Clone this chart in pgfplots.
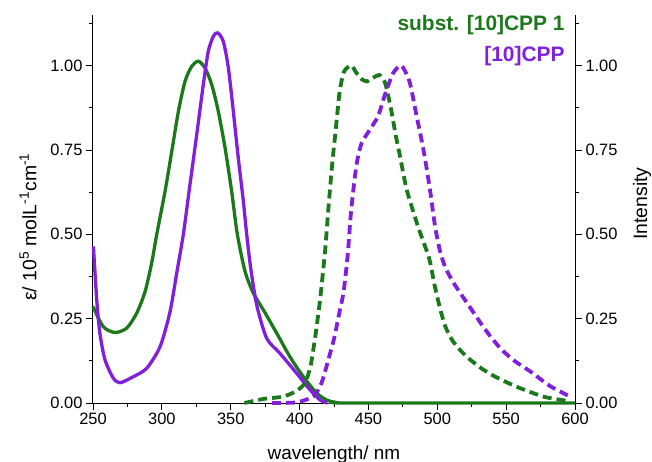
\documentclass[border=0pt]{standalone}
\usepackage{fontspec}
\setmainfont{Liberation Sans}
\usepackage{pgfplots}
\pgfplotsset{compat=1.18}
\definecolor{cgreen}{RGB}{27,120,27}
\definecolor{cpurple}{RGB}{128,32,220}

\begin{document}
\begin{tikzpicture}[x=1bp,y=1bp]
\pgfplotsset{
 every axis/.append style={
  scale only axis, width=482bp, height=388bp,
  xmin=250, xmax=600, ymin=0, ymax=1.15,
  tick align=outside, major tick length=7bp, minor tick length=4bp,
  tick style={black, line width=0.8bp},
  axis line style={line width=1bp},
  ytick={0,0.25,0.5,0.75,1},
  minor ytick={0.125,0.375,0.625,0.875,1.125},
  yticklabel style={/pgf/number format/.cd,fixed,fixed zerofill,precision=2},
  ticklabel style={font=\fontsize{16.5}{18}\selectfont},
  /pgf/number format/assume math mode=true,
  clip=false,
 },
}
% absorption (left axis)
\begin{axis}[
 axis x line*=bottom, axis y line*=left,
 xtick={250,300,...,600}, minor x tick num=1,
]
\addplot[cgreen, line width=3.3bp, smooth, tension=0.45] coordinates {
 (250,0.286) (257.5,0.226) (266,0.209) (274.5,0.222) (281.7,0.266) (287.8,0.33)
 (292.6,0.415) (296.3,0.50) (302.3,0.627) (307.2,0.746) (312,0.864) (316.8,0.953)
 (321.7,0.998) (326.5,1.013) (331.3,0.993) (336.2,0.944) (341,0.864) (345.9,0.756)
 (350.7,0.627) (354.8,0.50) (360.4,0.39) (366.4,0.326) (373.7,0.276) (383.4,0.207)
 (393,0.137) (402.7,0.078) (412.5,0.029) (419.7,0.009) (426,0.002) (440,0) (600,0)};
\addplot[cpurple, line width=3.3bp, smooth, tension=0.45] coordinates {
 (250.3,0.464) (252.7,0.306) (255,0.207) (258.7,0.128) (264.7,0.074) (269.6,0.06)
 (279.3,0.078) (289,0.103) (298.7,0.167) (305.9,0.27) (311,0.39) (315.6,0.50)
 (320.4,0.647) (325.3,0.795) (330.1,0.944) (333.7,1.042) (337.4,1.087) (340.5,1.097)
 (344.6,1.072) (348.3,0.993) (351.9,0.864) (355.5,0.726) (359.2,0.597) (361.6,0.50)
 (364.5,0.40) (368.9,0.29) (376.1,0.192) (385.8,0.147) (397.9,0.088) (407.6,0.039)
 (414.9,0.009) (420,0)};
\node[anchor=base east, text=cgreen, font=\fontsize{21}{24}\selectfont\bfseries] at (axis cs:595,1.104) {subst. [10]CPP 1};
\node[anchor=base east, text=cpurple, font=\fontsize{21}{24}\selectfont\bfseries] at (axis cs:595,1.012) {[10]CPP};
\end{axis}
% emission (right axis)
\begin{axis}[
 axis x line=none, axis y line*=right,
]
\addplot[cgreen, line width=3.8bp, dash pattern=on 9bp off 5bp, smooth, tension=0.4] coordinates {
 (360,0) (373.7,0.012) (388.2,0.019) (397.9,0.036) (404,0.06) (408,0.11) (411.5,0.2)
 (415,0.31) (418.5,0.45) (421,0.58) (423.5,0.70) (426,0.80) (429,0.92) (432,0.98)
 (435,0.995) (438,1.0) (441,0.98) (445,0.96) (449,0.953) (453,0.963) (458,0.972)
 (462,0.95) (466,0.88) (470,0.79) (473,0.73) (477.8,0.632) (486,0.523)
 (494,0.43) (498,0.35) (502,0.28) (506,0.225) (511,0.185) (517,0.155) (524,0.128)
 (533,0.10) (543,0.076) (557.7,0.048) (577,0.019) (591.6,0.008) (595,0.005)};
\addplot[cpurple, line width=3.8bp, dash pattern=on 9bp off 5bp, smooth, tension=0.4] coordinates {
 (380,0) (398,0.002) (410,0.02) (416,0.06) (421,0.13) (425,0.19) (429,0.27)
 (432,0.33) (435,0.44) (437,0.55) (439,0.63) (441.5,0.71) (445,0.77) (451,0.81)
 (457,0.85) (462,0.914) (468,0.978) (474,1.0) (480,0.95) (485,0.85) (490,0.75)
 (494.7,0.632) (498.4,0.523) (502,0.45) (506,0.40) (512,0.355) (519,0.312)
 (526,0.27) (533,0.228) (540,0.19) (547,0.157) (556,0.125) (567,0.095) (582,0.05)
 (596,0.02)};
\end{axis}
% axis labels
\node[rotate=90, anchor=center, font=\fontsize{19.5}{22}\selectfont] at (-65bp,176bp)
 {ε/ 10\textsuperscript{5} molL\textsuperscript{-1}cm\textsuperscript{-1}};
\node[rotate=90, anchor=center, font=\fontsize{19.5}{22}\selectfont] at (549bp,199.5bp) {Intensity};
\node[anchor=base, font=\fontsize{19}{22}\selectfont] at (241bp,-56.5bp) {wavelength/ nm};
\pgfresetboundingbox
\path[use as bounding box] (-93bp,-59bp) rectangle (559bp,403bp);
\end{tikzpicture}
\end{document}
